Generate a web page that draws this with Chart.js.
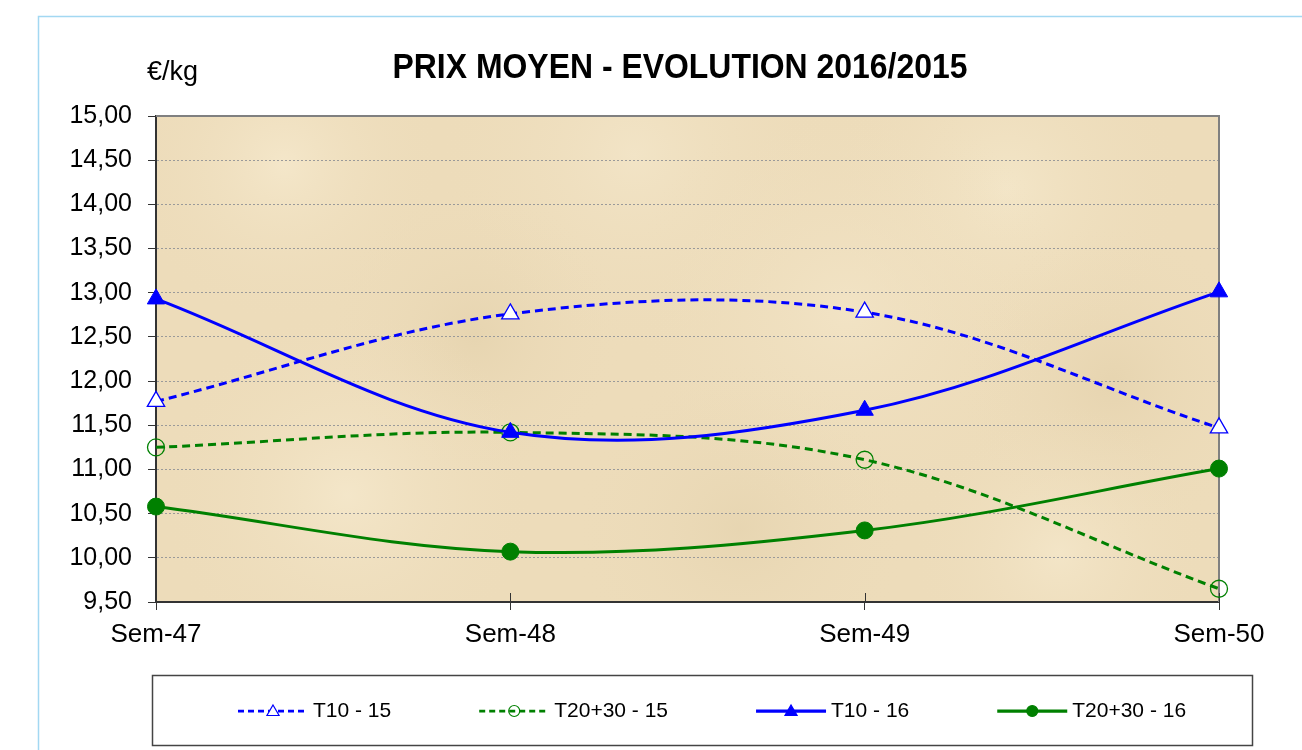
<!DOCTYPE html>
<html lang="fr">
<head>
<meta charset="utf-8">
<title>Prix moyen - évolution 2016/2015</title>
<script src="https://cdn.jsdelivr.net/npm/chart.js@4.4.1/dist/chart.umd.min.js"></script>
<style>
    html, body { margin: 0; padding: 0; background: #fff; }
    #wrap { width: 1302px; height: 750px; position: relative; }
</style>
</head>
<body>
<div id="wrap"><canvas id="prixChart" width="1302" height="750"></canvas></div>
<script>
// ─── DATA ───
const categories = ['Sem-47', 'Sem-48', 'Sem-49', 'Sem-50'];
const t10_15 = [11.77, 12.76, 12.78, 11.47];
const t2030_15 = [11.25, 11.42, 11.11, 9.65];
const t10_16 = [12.93, 11.42, 11.67, 13.01];
const t2030_16 = [10.58, 10.07, 10.31, 11.01];
const yTickLabels = ['9,50', '10,00', '10,50', '11,00', '11,50', '12,00', '12,50',
                     '13,00', '13,50', '14,00', '14,50', '15,00'];
const chartTitle = 'PRIX MOYEN - EVOLUTION 2016/2015';
const unitLabel = '€/kg';

const FONT = "'Liberation Sans', Arial, sans-serif";
const BLUE = '#0000ff';
const GREEN = '#008000';

// ─── plot background (parchment-like) ───
const parchment = {
    id: 'parchment',
    beforeDraw(chart) {
        const { ctx, chartArea: a } = chart;
        ctx.save();
        ctx.fillStyle = '#eddcba';
        ctx.fillRect(a.left, a.top, a.right - a.left, a.bottom - a.top);
        ctx.beginPath();
        ctx.rect(a.left, a.top, a.right - a.left, a.bottom - a.top);
        ctx.clip();
        const spots = [
            [0.12, 0.10, 160, 'rgba(247,235,208,0.7)'],
            [0.45, 0.08, 200, 'rgba(245,233,206,0.6)'],
            [0.80, 0.15, 180, 'rgba(247,236,209,0.6)'],
            [0.30, 0.45, 150, 'rgba(216,196,154,0.3)'],
            [0.65, 0.40, 220, 'rgba(246,234,207,0.5)'],
            [0.90, 0.55, 160, 'rgba(214,193,150,0.28)'],
            [0.18, 0.78, 190, 'rgba(248,237,211,0.6)'],
            [0.55, 0.85, 170, 'rgba(216,197,156,0.28)'],
            [0.85, 0.90, 150, 'rgba(247,235,208,0.6)']
        ];
        spots.forEach(([fx, fy, r, c]) => {
            const x = a.left + fx * (a.right - a.left);
            const y = a.top + fy * (a.bottom - a.top);
            const g = ctx.createRadialGradient(x, y, 0, x, y, r);
            g.addColorStop(0, c);
            g.addColorStop(1, 'rgba(237,220,186,0)');
            ctx.fillStyle = g;
            ctx.fillRect(x - r, y - r, 2 * r, 2 * r);
        });
        ctx.restore();

        // outer light blue frame
        ctx.save();
        ctx.strokeStyle = '#a3d8f2';
        ctx.lineWidth = 1.5;
        ctx.beginPath();
        ctx.moveTo(38.5, 750);
        ctx.lineTo(38.5, 16.5);
        ctx.lineTo(1302, 16.5);
        ctx.stroke();
        ctx.restore();
    },
    beforeDatasetsDraw(chart) {
        const { ctx, chartArea: a } = chart;
        ctx.save();
        // top and right plot border
        ctx.strokeStyle = '#808080';
        ctx.lineWidth = 2;
        ctx.beginPath();
        ctx.moveTo(a.left, a.top);
        ctx.lineTo(a.right, a.top);
        ctx.lineTo(a.right, a.bottom);
        ctx.stroke();
        // x tick marks crossing the axis
        const xs = chart.scales.x;
        ctx.strokeStyle = '#333';
        ctx.lineWidth = 1;
        xs.ticks.forEach((t, i) => {
            const px = Math.round(xs.getPixelForTick(i)) + 0.5;
            ctx.beginPath();
            ctx.moveTo(px, a.bottom - 9);
            ctx.lineTo(px, a.bottom);
            ctx.stroke();
        });
        ctx.restore();
    }
};

// ─── title, unit, legend ───
const annotations = {
    id: 'annotations',
    afterDraw(chart) {
        const { ctx } = chart;
        ctx.save();
        ctx.fillStyle = '#000';
        ctx.textBaseline = 'alphabetic';
        ctx.textAlign = 'center';
        ctx.font = 'bold 35px ' + FONT;
        ctx.fillText(chartTitle, 680, 78, 575);
        ctx.textAlign = 'left';
        ctx.font = '27px ' + FONT;
        ctx.fillText(unitLabel, 147, 80);

        // legend box
        ctx.strokeStyle = '#444';
        ctx.lineWidth = 1.5;
        ctx.strokeRect(152.5, 675.5, 1100, 70);

        const cy = 711;
        let x = 238;
        ctx.font = '21px ' + FONT;
        ctx.textBaseline = 'middle';
        chart.data.datasets.forEach(ds => {
            ctx.save();
            ctx.strokeStyle = ds.borderColor;
            ctx.lineWidth = ds.borderDash.length ? 2.75 : 3.25;
            ctx.setLineDash(ds.borderDash.length ? [6, 4] : []);
            ctx.beginPath();
            ctx.moveTo(x, cy);
            ctx.lineTo(x + 70, cy);
            ctx.stroke();
            ctx.setLineDash([]);
            ctx.fillStyle = ds.pointBackgroundColor;
            ctx.strokeStyle = ds.pointBorderColor;
            ctx.lineWidth = 1.2;
            Chart.helpers.drawPoint(ctx, {
                pointStyle: ds.pointStyle,
                radius: ds.pointStyle === 'triangle' ? 7 : 5.5,
                rotation: 0,
                borderWidth: 1.2
            }, x + 35, cy + (ds.pointStyle === 'triangle' ? 1 : 0));
            ctx.restore();
            ctx.fillStyle = '#000';
            ctx.fillText(ds.label, x + 75, cy);
            x += 75 + ctx.measureText(ds.label).width + 88;
        });
        ctx.restore();
    }
};

function lineSet(label, data, color, dashed, style, filled, order) {
    return {
        label: label,
        data: data,
        borderColor: color,
        borderWidth: 3,
        borderDash: dashed ? [8, 5] : [],
        tension: 0.35,
        fill: false,
        clip: false,
        order: order,
        pointStyle: style,
        pointRadius: style === 'triangle' ? 10 : 8.5,
        pointHoverRadius: style === 'triangle' ? 10 : 8.5,
        pointBackgroundColor: filled ? color : (style === 'triangle' ? '#ffffff' : 'rgba(0,0,0,0)'),
        pointBorderColor: color,
        pointBorderWidth: filled ? 1 : 1.3
    };
}

document.addEventListener('DOMContentLoaded', () => {
    const ctx = document.getElementById('prixChart');
    new Chart(ctx, {
        type: 'line',
        data: {
            labels: categories,
            datasets: [
                lineSet('T10 - 15', t10_15, BLUE, true, 'triangle', false, 2),
                lineSet('T20+30 - 15', t2030_15, GREEN, true, 'circle', false, 3),
                lineSet('T10 - 16', t10_16, BLUE, false, 'triangle', true, 0),
                lineSet('T20+30 - 16', t2030_16, GREEN, false, 'circle', true, 1)
            ]
        },
        options: {
            responsive: false,
            animation: false,
            layout: { padding: { top: 116, right: 83, bottom: 88, left: 0 } },
            plugins: {
                legend: { display: false },
                title: { display: false },
                tooltip: { enabled: false }
            },
            scales: {
                x: {
                    offset: false,
                    grid: {
                        drawOnChartArea: false,
                        drawTicks: true,
                        tickLength: 8,
                        tickColor: '#333',
                        color: '#333'
                    },
                    border: { display: true, color: '#333', width: 2 },
                    ticks: {
                        color: '#000',
                        padding: 9,
                        maxRotation: 0,
                        font: { family: FONT, size: 26 }
                    },
                    afterFit: s => { s.height = 60; }
                },
                y: {
                    min: 9.5,
                    max: 15,
                    grid: {
                        color: '#9a9a9a',
                        lineWidth: 1,
                        tickLength: 8,
                        tickColor: '#333',
                        tickBorderDash: []
                    },
                    border: { display: true, color: '#333', width: 2, dash: [2, 2] },
                    ticks: {
                        stepSize: 0.5,
                        color: '#000',
                        padding: 16,
                        font: { family: FONT, size: 25 },
                        callback: (v, i) => yTickLabels[i]
                    },
                    afterFit: s => { s.width = 156; }
                }
            }
        },
        plugins: [parchment, annotations]
    });
});
</script>
</body>
</html>
